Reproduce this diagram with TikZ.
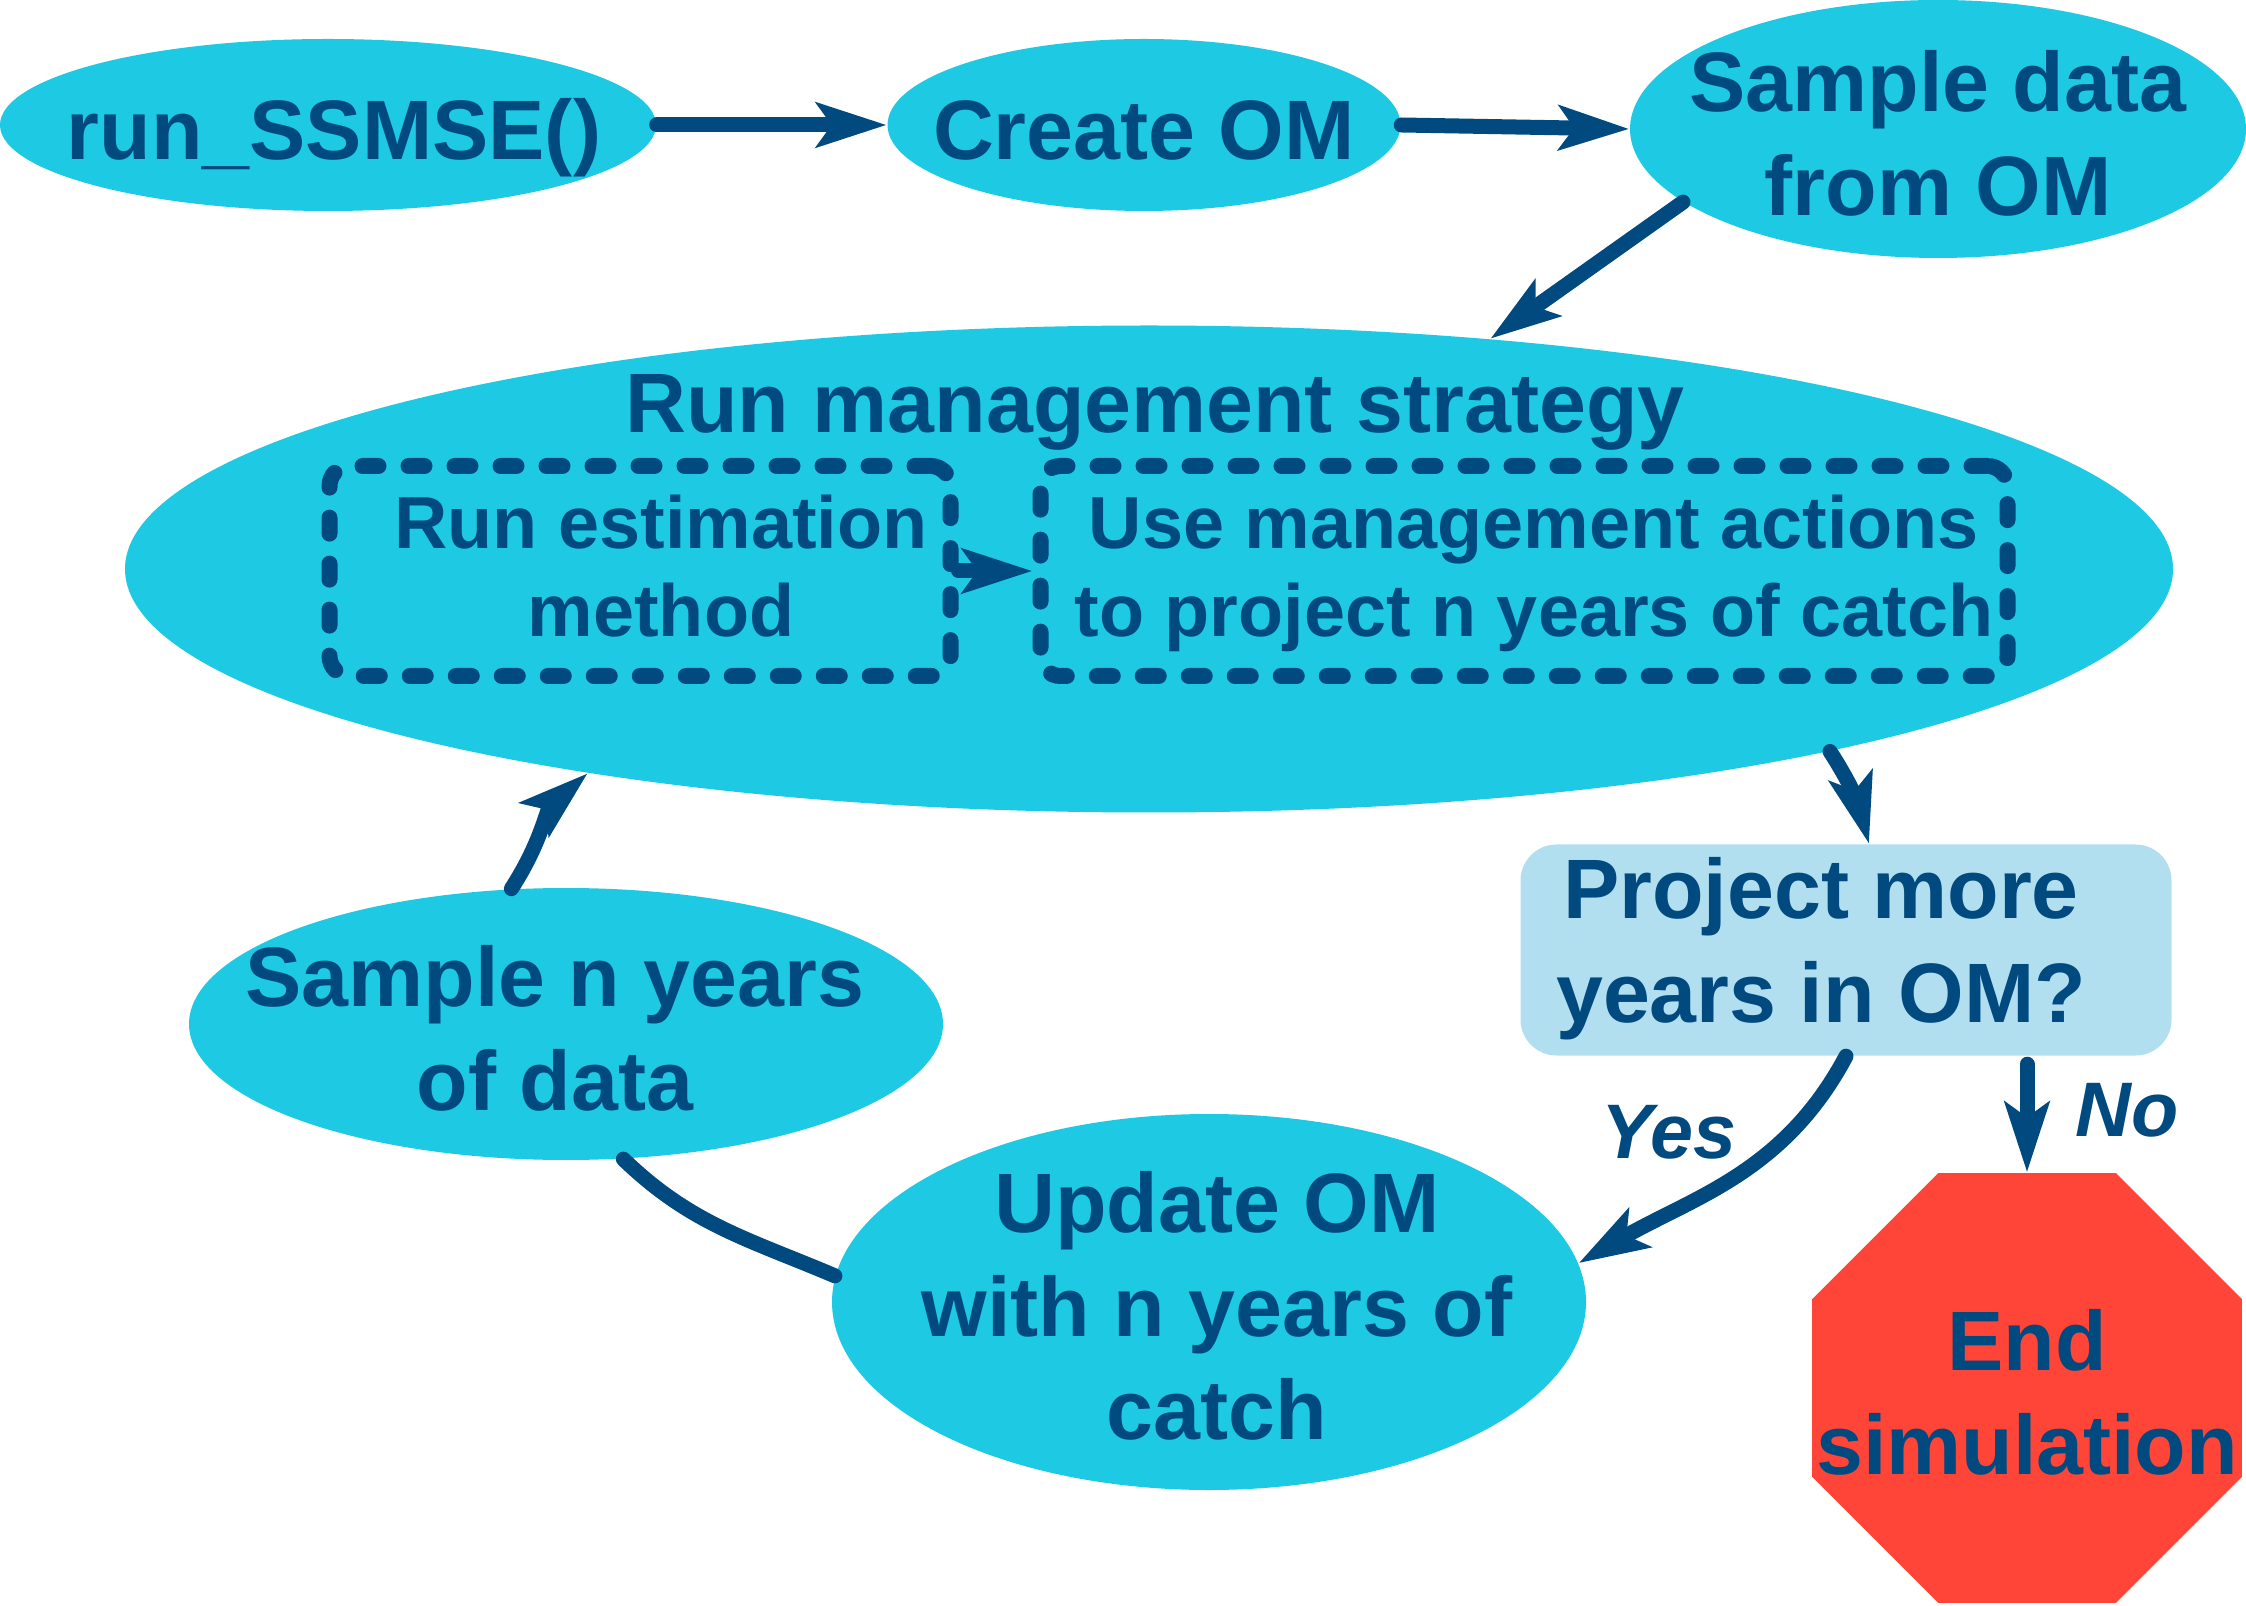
\documentclass[tikz,border=0pt]{standalone}
\usepackage{fontspec}
\setmainfont{Liberation Sans}
\usetikzlibrary{shapes.geometric,arrows.meta}
\definecolor{mcyan}{RGB}{30,202,227}
\definecolor{mnavy}{RGB}{0,74,128}
\definecolor{mpale}{RGB}{178,223,240}
\definecolor{mred}{RGB}{255,69,56}
% text block that does not change the size of its shape
\newcommand{\tx}[2][0pt]{\makebox[0pt]{\raisebox{-0.42em}[0pt][0pt]{\begin{tabular}{@{}c@{}}#2\end{tabular}}\hspace*{#1}}}
\tikzstyle{stage} = [ellipse, fill=mcyan, text=mnavy, inner sep=0pt, font=\fontsize{24}{29.5}\selectfont\bfseries]
\tikzstyle{innerbox} = [rectangle, rounded corners=2mm, draw=mnavy, line width=1.6mm, dash pattern=on 1.6mm off 3mm, line cap=round, text=mnavy, inner sep=0pt, font=\fontsize{21}{25}\selectfont\bfseries]
\tikzstyle{question} = [rectangle, rounded corners=3.6mm, fill=mpale, text=mnavy, inner sep=0pt, font=\fontsize{24}{29.5}\selectfont\bfseries]
\tikzstyle{stopsign} = [regular polygon, regular polygon sides=8, fill=mred, text=mnavy, inner sep=0pt, font=\fontsize{24}{29.5}\selectfont\bfseries]
\tikzstyle{answer} = [text=mnavy, font=\fontsize{22}{26}\selectfont\bfseries\itshape]
\tikzstyle{connector} = [draw=mnavy, line width=1.5mm, line cap=round, -{Stealth[length=7mm, width=4.4mm, inset=1.5mm]}]
\tikzstyle{plainlink} = [draw=mnavy, line width=1.5mm, line cap=round]

\begin{document}
\begin{tikzpicture}
                \useasboundingbox (0,0) rectangle (22.46,-16.06);

                \node (runssmse) [stage, minimum width=6.56cm, minimum height=1.72cm] at (3.28,-1.25) {\tx[-1.2mm]{run\_SSMSE()}};
                \node (createom) [stage, minimum width=5.13cm, minimum height=1.72cm] at (11.44,-1.25) {\tx{Create OM}};
                \node (sampledata) [stage, minimum width=6.16cm, minimum height=2.58cm] at (19.38,-1.29) {\tx{Sample data\\from OM}};
                \node (runmgmt) [stage, minimum width=20.48cm, minimum height=4.87cm] at (11.49,-5.69) {};
                \node (mgmttitle) [text=mnavy, font=\fontsize{24}{29}\selectfont\bfseries] at (11.55,-4.12) {Run management strategy};
                \node (estbox) [innerbox, minimum width=6.21cm, minimum height=2.10cm] at (6.40,-5.71) {\raisebox{0.9mm}[0pt][0pt]{\tx[-4.2mm]{Run estimation\\method}}};
                \node (actbox) [innerbox, minimum width=9.67cm, minimum height=2.10cm] at (15.24,-5.71) {\raisebox{0.9mm}[0pt][0pt]{\tx[-2mm]{Use management actions\\to project n years of catch}}};
                \node (project) [question, minimum width=6.51cm, minimum height=2.11cm] at (18.46,-9.50) {\raisebox{1.4mm}[0pt][0pt]{\tx[5mm]{Project more\\years in OM?}}};
                \node (samplen) [stage, minimum width=7.54cm, minimum height=2.72cm] at (5.66,-10.24) {\tx[2.2mm]{Sample n years\\of data}};
                \node (updateom) [stage, minimum width=7.54cm, minimum height=3.76cm] at (12.09,-13.02) {\tx[-1.6mm]{Update OM\\with n years of\\catch}};
                \node (endsim) [stopsign, minimum size=4.65cm] at (20.27,-13.88) {\tx{End\\simulation}};
                \node (yes) [answer] at (16.69,-11.32) {Yes};
                \node (no) [answer] at (21.27,-11.10) {No};

                \draw [connector] (runssmse.east) -- (createom.west);
                \draw [connector] (createom.east) -- (sampledata.west);
                \draw [connector] (sampledata.196) -- (runmgmt.34);
                \draw [connector] (estbox.east) -- (actbox.west);
                \draw [connector] (runmgmt.-15.9) to[out=-57, in=105] ([xshift=2.3mm]project.north);
                \draw [connector] (project.south) to[out=-118, in=30] (updateom.6);
                \draw [connector] ([yshift=-0.8mm]project.south -| endsim.north) -- (endsim.north);
                \draw [plainlink] (updateom.176) to[out=157, in=-44] (samplen.-67);
                \draw [connector] (samplen.112) to[out=57, in=-139] (runmgmt.200.2);
            \end{tikzpicture}
\end{document}
